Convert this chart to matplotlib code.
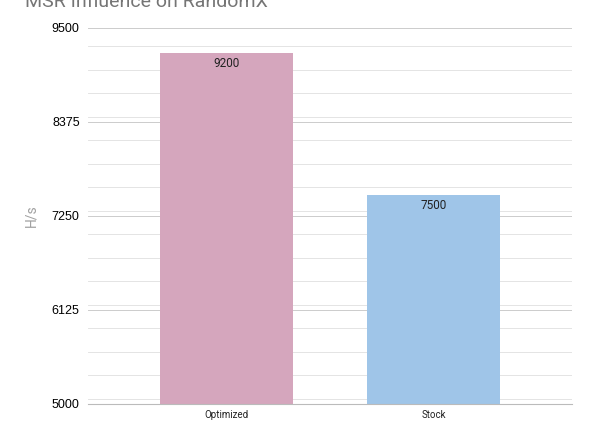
import matplotlib.pyplot as plt
from matplotlib.ticker import MultipleLocator

categories = ['Optimized', 'Stock']
hashrate = [9200, 7500]
bar_colors = ['#d5a6bd', '#9fc5e8']
y_ticks = [5000, 6125, 7250, 8375, 9500]

fig = plt.figure(figsize=(5.93, 4.30), dpi=100)
ax = fig.add_axes([88/593, 1-404/430, 484/593, 376/430])

bars = ax.bar(range(len(categories)), hashrate, width=0.64, color=bar_colors, zorder=3)
for b, v in zip(bars, hashrate):
    ax.text(b.get_x() + b.get_width()/2, v - 50, str(v), ha='center', va='top',
            fontsize=8.5, family='Roboto', color='#222222', zorder=4)

ax.set_xlim(-0.667, 1.667)
ax.set_ylim(5000, 9500)
ax.set_yticks(y_ticks)
ax.set_yticklabels([str(t) for t in y_ticks], family='Liberation Sans', fontsize=9)
ax.yaxis.set_minor_locator(MultipleLocator(281.25))
ax.set_xticks(range(len(categories)))
ax.set_xticklabels(categories, family='Roboto', fontsize=7, color='#222222')

ax.grid(axis='y', which='major', color='#cccccc', linewidth=0.7, zorder=0)
ax.grid(axis='y', which='minor', color='#e4e4e4', linewidth=0.7, zorder=0)
ax.tick_params(axis='both', which='both', length=0)
ax.tick_params(axis='y', pad=6)
ax.tick_params(axis='x', pad=4)
for s in ['top', 'right', 'left']:
    ax.spines[s].set_visible(False)
ax.spines['bottom'].set_color('#bbbbbb')
ax.spines['bottom'].set_zorder(4)

ax.set_ylabel('H/s', family='Roboto', fontsize=10, color='#a0a0a0', labelpad=10)

# title mostly cropped off at the top of the image
fig.text(25/593, 1 - 7/430, 'MSR Influence on RandomX', family='Roboto', fontsize=14,
         color='#757575', ha='left', va='baseline')

fig.savefig('out.png', dpi=100)
